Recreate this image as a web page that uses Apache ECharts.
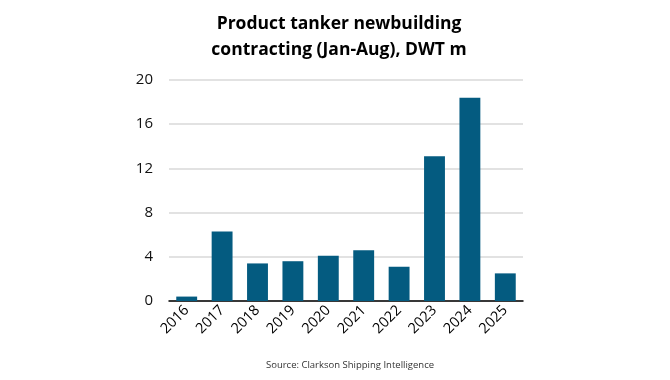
<!DOCTYPE html>
<html><head><meta charset="utf-8">
<script src="https://cdn.jsdelivr.net/npm/echarts@6/dist/echarts.min.js"></script>
<style>html,body{margin:0;padding:0;background:#fff}#c{width:670px;height:380px}</style>
</head><body><div id="c"></div>
<script>
const years = ['2016','2017','2018','2019','2020','2021','2022','2023','2024','2025'];
const contracting = [0.4, 6.3, 3.4, 3.6, 4.1, 4.6, 3.1, 13.1, 18.4, 2.5];
const titleText = 'Product tanker newbuilding\ncontracting (Jan-Aug), DWT m';
const sourceText = 'Source: Clarkson Shipping Intelligence';

const chart = echarts.init(document.getElementById('c'));
chart.setOption({
  animation: false,
  backgroundColor: '#fff',
  title: [{
    text: titleText, left: 334, top: 6, textAlign: 'center',
    textStyle: {fontFamily: 'Open Sans', fontWeight: 'bold', fontSize: 17.5, lineHeight: 26, color: '#000'}
  }, {
    text: sourceText, left: 345, top: 355, textAlign: 'center',
    textStyle: {fontFamily: 'Open Sans', fontWeight: 'normal', fontSize: 9.5, color: '#333'}
  }],
  grid: {left: 169, right: 147, top: 80, bottom: 79, containLabel: false},
  xAxis: {
    type: 'category', data: years,
    axisLine: {lineStyle: {color: '#000', width: 1.5}},
    axisTick: {show: false},
    axisLabel: {rotate: 45, fontFamily: 'Open Sans', fontSize: 14.5, color: '#000', margin: 7}
  },
  yAxis: {
    type: 'value', min: 0, max: 20, interval: 4,
    axisLine: {show: false}, axisTick: {show: false},
    splitLine: {lineStyle: {color: '#d9d9d9', width: 1.5}},
    axisLabel: {fontFamily: 'Open Sans', fontSize: 15, color: '#111', margin: 16}
  },
  series: [{
    type: 'bar', data: contracting, barWidth: '59%',
    itemStyle: {color: '#045b80'}
  }]
});
</script></body></html>
